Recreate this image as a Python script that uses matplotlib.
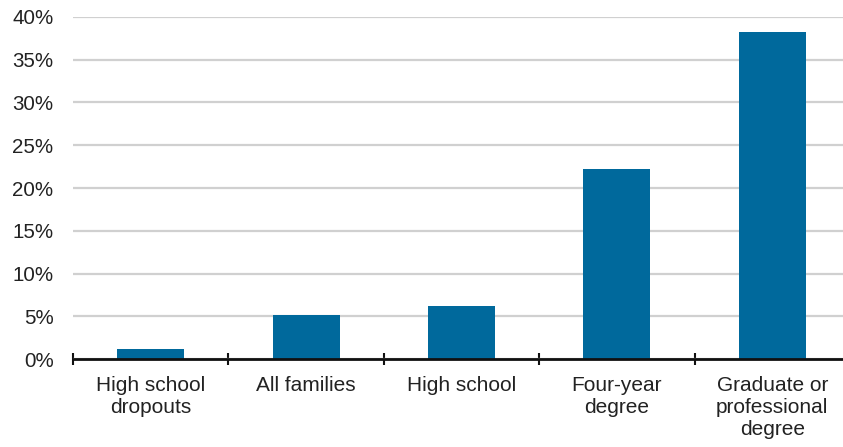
import matplotlib
matplotlib.use("Agg")
import matplotlib.pyplot as plt
import numpy as np

categories = ["High school\ndropouts", "All families", "High school",
              "Four-year\ndegree", "Graduate or\nprofessional\ndegree"]
values = [1.2, 5.2, 6.2, 22.2, 38.2]
yticks = [0, 5, 10, 15, 20, 25, 30, 35, 40]
ytick_labels = ["0%", "5%", "10%", "15%", "20%", "25%", "30%", "35%", "40%"]

plt.rcParams['font.family'] = ['Liberation Sans', 'DejaVu Sans']

fig = plt.figure(figsize=(8.43, 4.47), dpi=100)
W, H = 843, 447
left, right = 73, 850
top, bottom = 16.7, 359.3
ax = fig.add_axes([left / W, 1 - bottom / H, (right - left) / W, (bottom - top) / H])

x = np.arange(len(categories))
ax.bar(x, values, width=0.43, color="#00699C", zorder=3)

ax.set_xlim(-0.5, len(categories) - 0.5)
ax.set_ylim(0, 40)
ax.set_yticks(yticks)
ax.set_yticklabels(ytick_labels, fontsize=14.8, color="#222222")
ax.yaxis.grid(True, color="#d0d0d0", linewidth=1.6, zorder=0)
ax.tick_params(axis="y", length=0, pad=14)

ax.set_xticks(x)
ax.set_xticklabels(categories, fontsize=15, color="#222222", linespacing=1.2)
ax.tick_params(axis="x", which="major", length=0, pad=12)
ax.set_xticks(np.arange(len(categories) + 1) - 0.5, minor=True)
ax.tick_params(axis="x", which="minor", direction="inout", length=9, width=1.5, color="#111111")

for s in ["top", "right", "left"]:
    ax.spines[s].set_visible(False)
ax.spines["bottom"].set_color("#111111")
ax.spines["bottom"].set_linewidth(2)
ax.spines["bottom"].set_zorder(4)
ax.set_axisbelow(True)

fig.savefig("out.png", dpi=100)
